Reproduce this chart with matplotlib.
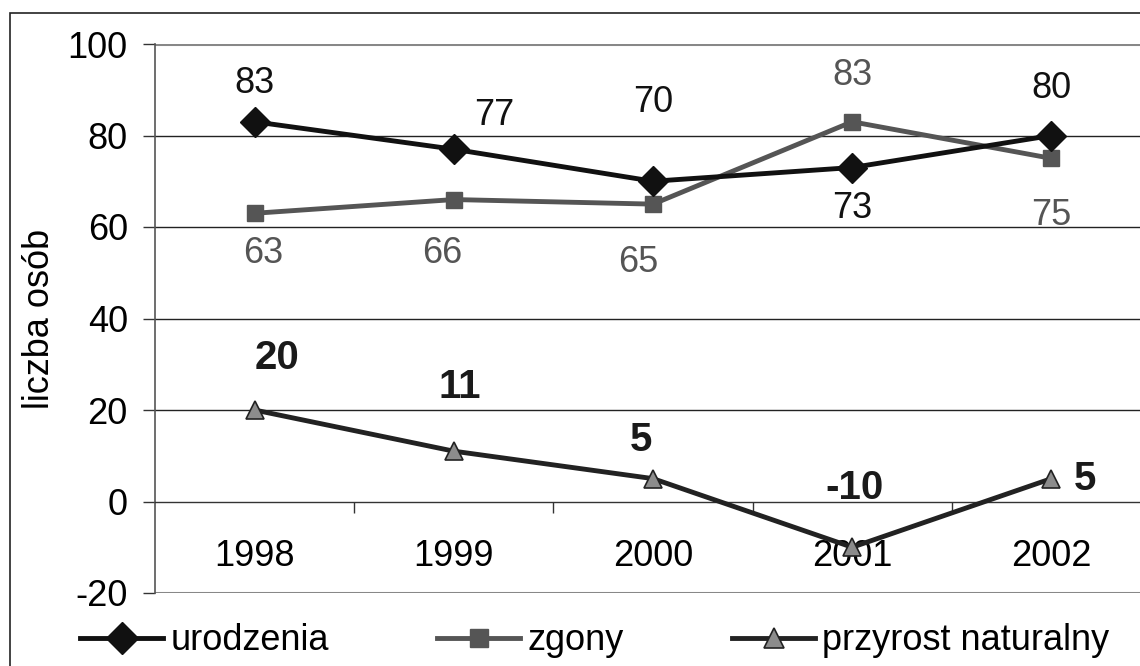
import matplotlib
matplotlib.use("Agg")
import matplotlib.pyplot as plt
from matplotlib.patches import Rectangle

years = ["1998", "1999", "2000", "2001", "2002"]
urodzenia = [83, 77, 70, 73, 80]
zgony = [63, 66, 65, 83, 75]
przyrost = [20, 11, 5, -10, 5]
yticks = [-20, 0, 20, 40, 60, 80, 100]

plt.rcParams['font.family'] = ['Liberation Sans', 'DejaVu Sans']

W, H = 1140, 666
fig = plt.figure(figsize=(W/100, H/100), dpi=100)
fig.patches.append(Rectangle((10/W, -0.1), 1.2, 1 - 13/H + 0.1, transform=fig.transFigure,
                             fill=False, edgecolor='#222222', lw=1.2))

ax = fig.add_axes([155/W, (H-593)/H, (1151-155)/W, (593-44)/H])
x = list(range(len(years)))

ax.plot(x, urodzenia, color='#111111', lw=3.5, marker='D', ms=15, mfc='#111111', mec='#111111', zorder=4,
        label='urodzenia')
ax.plot(x, zgony, color='#555555', lw=3.5, marker='s', ms=12, mfc='#555555', mec='#555555', zorder=3,
        label='zgony')
ax.plot(x, przyrost, color='#222222', lw=3.5, marker='^', ms=13, mfc='#8c8c8c', mec='#222222', mew=1.2,
        zorder=3, label='przyrost naturalny')

ax.set_xlim(-0.5, 4.5)
ax.set_ylim(-20, 100)
ax.set_yticks(yticks)
ax.set_yticklabels([str(v) for v in yticks], fontsize=26)
ax.tick_params(axis='y', length=8.6, width=1, color='#333333', pad=11)

ax.spines['bottom'].set_position(('data', 0))
ax.spines['bottom'].set_color('#333333')
ax.spines['bottom'].set_linewidth(1)
ax.spines['left'].set_color('#555555')
ax.spines['left'].set_linewidth(1.2)
ax.spines['top'].set_visible(False)
ax.spines['right'].set_visible(False)

ax.set_xticks(x)
ax.set_xticklabels(years, fontsize=26)
ax.tick_params(axis='x', which='major', length=0, pad=27)
ax.set_xticks([0.5, 1.5, 2.5, 3.5], minor=True)
ax.tick_params(axis='x', which='minor', length=8, width=1, color='#333333')

for v in [20, 40, 60, 80]:
    ax.axhline(v, color='#222222', lw=1, zorder=1)
for v in [100, -20]:
    ax.axhline(v, color='#888888', lw=2.2, zorder=1)

ax.set_ylabel('liczba osób', fontsize=26, labelpad=8)

# data labels
def lab(xi, yi, txt, dx, dy, color, bold=False):
    ax.annotate(txt, (xi, yi), xytext=(dx, dy), textcoords='offset pixels', ha='center', va='center',
                fontsize=29 if bold else 26, color=color, fontweight='bold' if bold else 'normal', zorder=5)

u_off = [(0, 38), (40, 34), (0, 79), (0, -41), (0, 47)]
for i, v in enumerate(urodzenia):
    lab(i, v, str(v), *u_off[i], '#111111')
z_off = [(9, -40), (-12, -54), (-15, -58), (0, 46), (0, -57)]
for i, v in enumerate(zgony):
    lab(i, v, str(v), *z_off[i], '#555555')
p_off = [(22, 52), (6, 64), (-12, 39), (2, 59), (34, 0)]
for i, v in enumerate(przyrost):
    lab(i, v, str(v), *p_off[i], '#1a1a1a', bold=True)

leg = fig.legend(loc='center left', bbox_to_anchor=(80/W, 1 - 641/H), ncol=3, frameon=False, fontsize=26,
                 handlelength=2.3, handletextpad=0.2, columnspacing=3.0, borderaxespad=0, borderpad=0,
                 markerscale=1.1)

fig.savefig('out.png', dpi=100)
